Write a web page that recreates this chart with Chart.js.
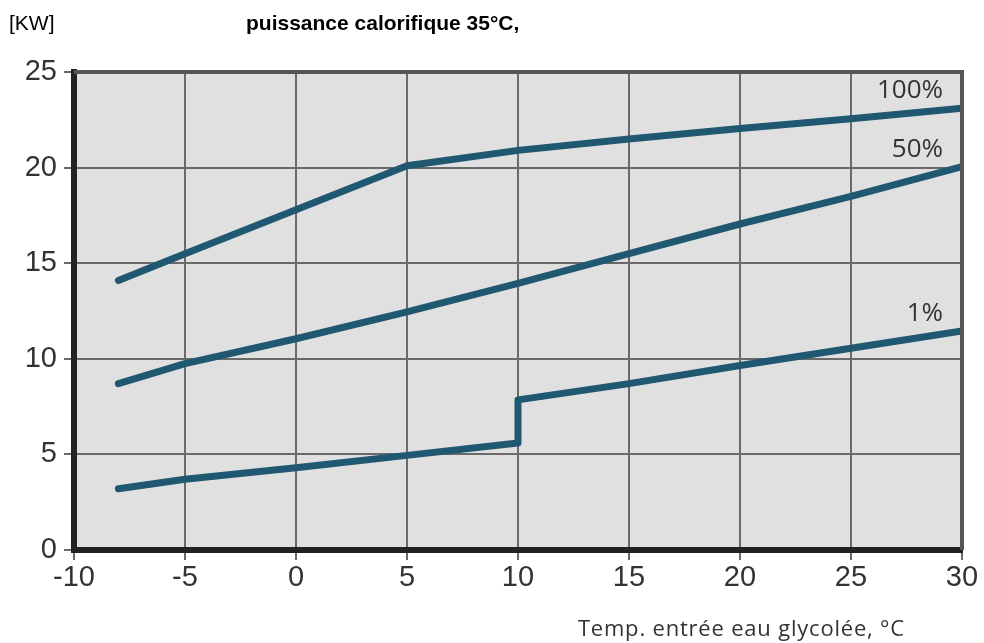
<!DOCTYPE html>
<html>
<head>
<meta charset="utf-8">
<script src="https://cdn.jsdelivr.net/npm/chart.js@4.4.1/dist/chart.umd.min.js"></script>
<style>
    html, body { margin: 0; padding: 0; background: #ffffff; }
    canvas { display: block; }
</style>
</head>
<body>
<canvas id="chart" width="984" height="643"></canvas>
<script>
// values
const tempC = [-8, -5, 0, 5, 10, 15, 20, 25, 30];
const load100 = [14.1, 15.5, 17.8, 20.1, 20.9, 21.5, 22.05, 22.55, 23.1];
const load50 = [8.7, 9.75, 11.05, 12.45, 13.95, 15.5, 17.05, 18.5, 20.05];
// the 1% curve jumps at 10 °C, so 10 appears twice
const tempC1 = [-8, -5, 0, 5, 10, 10, 15, 20, 25, 30];
const load1 = [3.2, 3.7, 4.3, 4.95, 5.6, 7.85, 8.7, 9.65, 10.55, 11.45];
const seriesLabels = ['100%', '50%', '1%'];
const xTicks = [-10, -5, 0, 5, 10, 15, 20, 25, 30];
const yTicks = [0, 5, 10, 15, 20, 25];

const lineColor = '#1f5870';

function points(xs, ys) {
    return xs.map((x, i) => ({ x: x, y: ys[i] }));
}

function lineSet(label, xs, ys) {
    return {
        label: label,
        data: points(xs, ys),
        borderColor: lineColor,
        borderWidth: 7,
        borderCapStyle: 'round',
        borderJoinStyle: 'round',
        pointRadius: 0,
        tension: 0,
        fill: false
    };
}

const plotBackground = {
    id: 'plotBackground',
    beforeDraw(chart) {
        const { ctx, chartArea: a } = chart;
        ctx.save();
        ctx.fillStyle = '#ffffff';
        ctx.fillRect(0, 0, chart.width, chart.height);
        ctx.fillStyle = '#e0e0e0';
        ctx.fillRect(a.left, a.top, a.right - a.left, a.bottom - a.top);
        ctx.restore();
    }
};

const frameAndLabels = {
    id: 'frameAndLabels',
    afterDatasetsDraw(chart) {
        const { ctx, chartArea: a } = chart;
        ctx.save();
        // top and right edges of the frame
        ctx.strokeStyle = '#555555';
        ctx.lineWidth = 4;
        ctx.beginPath();
        ctx.moveTo(a.left, a.top);
        ctx.lineTo(a.right, a.top);
        ctx.lineTo(a.right, a.bottom);
        ctx.stroke();

        // curve names, just above the end of each line
        ctx.fillStyle = '#333333';
        ctx.font = '26px "Open Sans"';
        ctx.textAlign = 'right';
        ctx.textBaseline = 'alphabetic';
        chart.data.datasets.forEach((ds, i) => {
            const pts = chart.getDatasetMeta(i).data;
            const last = pts[pts.length - 1];
            ctx.fillText(ds.label, last.x - 19, last.y - 10);
        });
        ctx.restore();
    },
    afterDraw(chart) {
        const { ctx } = chart;
        ctx.save();
        ctx.fillStyle = '#000000';
        ctx.textBaseline = 'middle';
        ctx.textAlign = 'left';
        ctx.font = '21px "Liberation Sans"';
        ctx.fillText('[KW]', 9, 24);
        ctx.font = 'bold 21px "Liberation Sans"';
        ctx.fillText('puissance calorifique 35°C,', 246, 24);

        ctx.fillStyle = '#333333';
        ctx.font = '22px "Open Sans"';
        ctx.letterSpacing = '0.8px';
        ctx.textAlign = 'right';
        ctx.fillText('Temp. entrée eau glycolée, °C', 905, 630);
        ctx.restore();
    }
};

new Chart(document.getElementById('chart'), {
    type: 'line',
    data: {
        datasets: [
            lineSet(seriesLabels[0], tempC, load100),
            lineSet(seriesLabels[1], tempC, load50),
            lineSet(seriesLabels[2], tempC1, load1)
        ]
    },
    options: {
        responsive: false,
        animation: false,
        layout: { padding: { top: 72, right: 22, left: 0, bottom: 0 } },
        plugins: {
            legend: { display: false },
            tooltip: { enabled: false }
        },
        scales: {
            x: {
                type: 'linear',
                min: xTicks[0],
                max: xTicks[xTicks.length - 1],
                afterFit(scale) { scale.height = 93; },
                afterBuildTicks(scale) { scale.ticks = xTicks.map(v => ({ value: v })); },
                grid: { color: '#6a6a6a', lineWidth: 2, tickLength: 10 },
                border: { display: true, color: '#222222', width: 6 },
                ticks: {
                    color: '#333333',
                    padding: 1,
                    maxRotation: 0,
                    font: { family: '"Liberation Sans"', size: 29 }
                }
            },
            y: {
                min: yTicks[0],
                max: yTicks[yTicks.length - 1],
                afterFit(scale) { scale.width = 74; },
                afterBuildTicks(scale) { scale.ticks = yTicks.map(v => ({ value: v })); },
                grid: { color: '#6a6a6a', lineWidth: 2, tickLength: 10 },
                border: { display: true, color: '#222222', width: 6 },
                ticks: {
                    color: '#333333',
                    padding: 7,
                    font: { family: '"Liberation Sans"', size: 29 }
                }
            }
        }
    },
    plugins: [plotBackground, frameAndLabels]
});
</script>
</body>
</html>
